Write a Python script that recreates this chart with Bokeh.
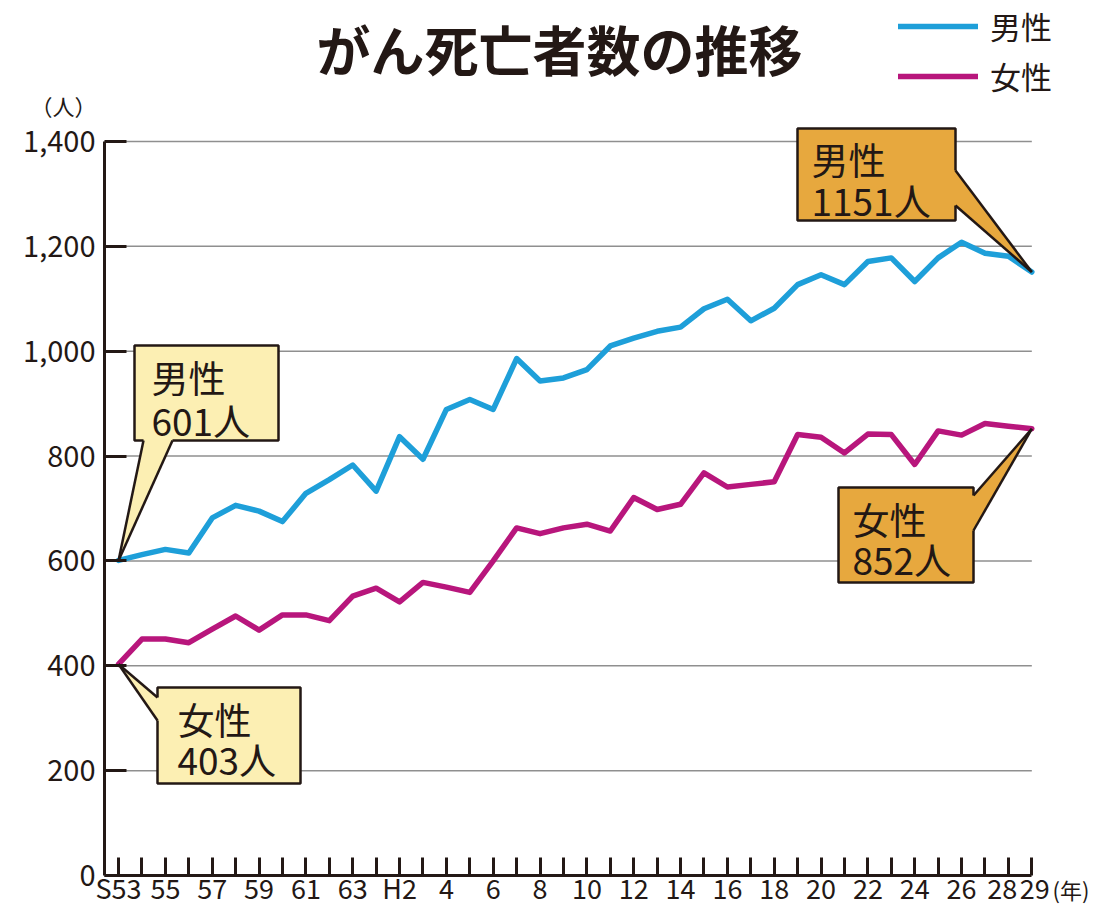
from bokeh.plotting import figure
from bokeh.models import (Range1d, FixedTicker, NumeralTickFormatter, Legend,
                          LegendItem)
from bokeh.core.properties import value
from bokeh.embed import file_html
from bokeh.resources import INLINE

# ---------------- data ----------------
year_labels = ["S53", "54", "55", "56", "57", "58", "59", "60", "61", "62", "63",
               "H1", "H2", "3", "4", "5", "6", "7", "8", "9", "10", "11", "12",
               "13", "14", "15", "16", "17", "18", "19", "20", "21", "22", "23",
               "24", "25", "26", "27", "28", "29"]
male = [601, 612, 622, 615, 682, 706, 695, 675, 729, 755, 783, 733, 837, 794,
        889, 908, 889, 986, 943, 949, 965, 1010, 1025, 1038, 1046, 1081, 1099,
        1058, 1082, 1127, 1146, 1127, 1171, 1178, 1133, 1178, 1208, 1187, 1181,
        1151]
female = [403, 451, 451, 444, 470, 495, 468, 497, 497, 486, 533, 548, 522, 559,
          550, 540, 600, 663, 652, 663, 670, 657, 721, 698, 708, 768, 741, 746,
          751, 841, 836, 806, 842, 841, 784, 848, 840, 862, 857, 852]
y_ticks = [0, 200, 400, 600, 800, 1000, 1200, 1400]
series_names = ["男性", "女性"]
title_text = "がん死亡者数の推移"
y_unit = "（人）"
x_unit = "(年)"

# ---------------- layout / style ----------------
FONT = "Noto Sans CJK JP"
INK = "#231815"
MALE_C = "#1e9fd9"
FEMALE_C = "#b8167c"
PALE = "#fcefb3"
ORANGE = "#e7a83e"

W, H = 1116, 909
AX_L, AX_B = 104, 875          # px position of y axis line / x axis line
X0 = -0.6                      # data x at the y axis
SX = 932.0 / 39.8              # px per year
SY = 734.0 / 1400.0            # px per person


def xd(px):
    return X0 + (px - AX_L) / SX


def yd(py):
    return (AX_B - py) / SY


xs = list(range(len(year_labels)))
n = len(xs)

p = figure(width=W, height=H,
           x_range=Range1d(xd(0), xd(W)), y_range=Range1d(yd(H), yd(0)),
           output_backend="svg", toolbar_location=None,
           min_border_left=0, min_border_right=0,
           min_border_top=0, min_border_bottom=0)
p.outline_line_color = None
p.background_fill_color = "white"
p.border_fill_color = "white"

# axes (fixed inside the frame)
NB = "\u00a0"
xa = p.xaxis[0]
xa.fixed_location = 0
xa.ticker = FixedTicker(ticks=xs)
lab = {}
for i, t in zip(xs, year_labels):
    if i == n - 1:
        lab[i] = NB + t
    elif i == n - 2:
        lab[i] = t + NB + NB
    elif i % 2 == 0:
        lab[i] = t
    else:
        lab[i] = ""
xa.major_label_overrides = lab
xa.bounds = (X0, xs[-1])
ya = p.yaxis[0]
ya.fixed_location = X0
ya.ticker = FixedTicker(ticks=y_ticks)
ya.formatter = NumeralTickFormatter(format="0,0")
ya.bounds = (0, y_ticks[-1])
for ax in (xa, ya):
    ax.axis_line_color = INK
    ax.axis_line_width = 3
    ax.major_tick_line_color = INK
    ax.major_tick_line_width = 3
    ax.major_tick_out = 0
    ax.minor_tick_line_color = None
    ax.major_label_text_font = FONT
    ax.major_label_text_color = INK
xa.major_label_text_font_size = "27px"
ya.major_label_text_font_size = "29px"
xa.major_tick_in = 18
xa.major_label_standoff = -8
ya.major_tick_in = 22
ya.major_label_standoff = 9

p.xgrid.visible = False
p.ygrid.visible = False
# horizontal grid lines from the axis to the last year
gy = y_ticks[1:]
p.segment(x0=[X0] * len(gy), x1=[xs[-1]] * len(gy), y0=gy, y1=gy,
          line_color="#8f8f8f", line_width=1.5)

# lines
r_m = p.line(xs, male, line_width=5.5, line_color=MALE_C,
             line_join="round", line_cap="round")
r_f = p.line(xs, female, line_width=5.5, line_color=FEMALE_C,
             line_join="round", line_cap="round")

# callouts: (values, index, name, box px (l,t,r,b), fill, tail base px, inward shift, text px)
callouts = [
    (male, 0, series_names[0], (134, 345, 278, 440), PALE,
     [(143, 440), (172, 440)], (0, -5), (151, 376, 419)),
    (female, 0, series_names[1], (157, 687, 300, 783), PALE,
     [(157, 697), (157, 720)], (5, 0), (177, 718, 758)),
    (male, n - 1, series_names[0], (797, 128, 955, 220), ORANGE,
     [(955, 170), (955, 205)], (-5, 0), (811, 158, 199)),
    (female, n - 1, series_names[1], (838, 487, 973, 582), ORANGE,
     [(973, 495), (973, 530)], (-5, 0), (852, 518, 558)),
]
for vals, idx, name, (l, t, r, b), fill, base, (ix, iy), (tx, ty1, ty2) in callouts:
    p.quad(left=[xd(l)], right=[xd(r)], top=[yd(t)], bottom=[yd(b)],
           fill_color=fill, line_color=INK, line_width=2.5)
    tip = (idx, vals[idx])
    (b1x, b1y), (b2x, b2y) = base
    px_ = [tip[0], xd(b1x), xd(b1x + ix), xd(b2x + ix), xd(b2x)]
    py_ = [tip[1], yd(b1y), yd(b1y + iy), yd(b2y + iy), yd(b2y)]
    p.patch(px_, py_, fill_color=fill, line_color=None)
    p.multi_line([[tip[0], xd(b1x)], [tip[0], xd(b2x)]],
                 [[tip[1], yd(b1y)], [tip[1], yd(b2y)]],
                 line_color=INK, line_width=2.5, line_join="miter")
    p.text(x=[xd(tx), xd(tx)], y=[yd(ty1), yd(ty2)],
           text=[name, f"{vals[idx]}人"], text_font=value(FONT),
           text_font_size="37px", text_color=INK,
           text_align="left", text_baseline="middle")

# title
p.text(x=[xd(559)], y=[yd(48)], text=[title_text], text_font=value(FONT),
       text_font_size="54px", text_font_style="bold", text_color=INK,
       text_align="center", text_baseline="middle")

# unit labels
p.text(x=[xd(63)], y=[yd(104)], text=[y_unit], text_font=value(FONT),
       text_font_size="22px", text_color=INK,
       text_align="center", text_baseline="middle")
p.text(x=[xd(1052)], y=[yd(888)], text=[x_unit], text_font=value(FONT),
       text_font_size="22px", text_color=INK,
       text_align="left", text_baseline="middle")

# legend
legend = Legend(items=[LegendItem(label=series_names[0], renderers=[r_m]),
                       LegendItem(label=series_names[1], renderers=[r_f])],
                location=(898, H - 98))
legend.border_line_color = None
legend.background_fill_alpha = 0
legend.padding = 0
legend.margin = 0
legend.spacing = 5
legend.label_height = 40
legend.glyph_height = 40
legend.glyph_width = 80
legend.label_standoff = 12
legend.label_text_font = FONT
legend.label_text_font_size = "31px"
legend.label_text_color = INK
p.add_layout(legend)

open("out.html", "w").write(file_html(p, INLINE))
